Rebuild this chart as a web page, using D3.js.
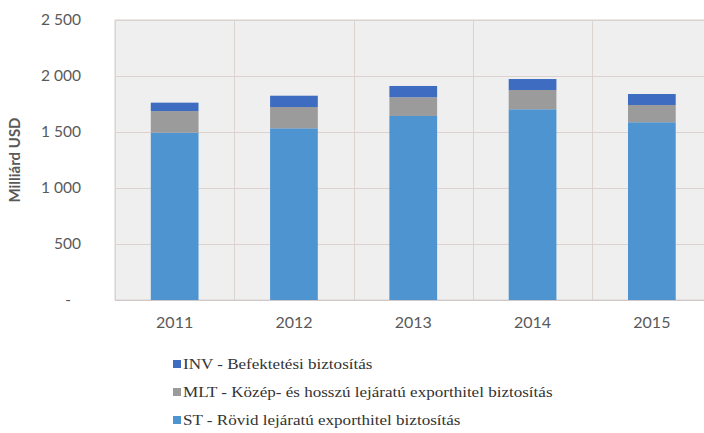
<!DOCTYPE html>
<html>
<head>
<meta charset="utf-8">
<script src="https://cdn.jsdelivr.net/npm/d3@7"></script>
<style>
  html, body { margin: 0; padding: 0; background: #ffffff; }
  svg { display: block; }
</style>
</head>
<body>
<svg id="chart" width="704" height="433"></svg>
<script>
// Years on the category axis
const years = ["2011", "2012", "2013", "2014", "2015"];

// Series values, billion USD
const stValues  = [1494, 1533, 1643, 1703, 1587]; // short-term
const mltValues = [193, 190, 167, 172, 154];      // medium / long-term
const invValues = [75, 101, 101, 98, 98];         // investment

// Value axis ticks
const yTicks = [0, 500, 1000, 1500, 2000, 2500];

const seriesNames = [
  "ST - Rövid lejáratú exporthitel biztosítás",
  "MLT - Közép- és hosszú lejáratú exporthitel biztosítás",
  "INV - Befektetési biztosítás"
];
const seriesKeys = ["st", "mlt", "inv"];
const colors = { st: "#4e94d1", mlt: "#9b9b9b", inv: "#3d6cc0" };

const table = years.map((y, i) => ({
  year: y, st: stValues[i], mlt: mltValues[i], inv: invValues[i]
}));

const svg = d3.select("#chart");
const plot = { left: 115, top: 20, right: 711.5, bottom: 300 };

const x = d3.scaleBand()
  .domain(years)
  .range([plot.left, plot.right])
  .paddingInner(0.6)
  .paddingOuter(0.3);

const y = d3.scaleLinear()
  .domain([0, 2500])
  .range([plot.bottom, plot.top]);

// plot area background
svg.append("rect")
  .attr("x", plot.left).attr("y", plot.top)
  .attr("width", plot.right - plot.left)
  .attr("height", plot.bottom - plot.top)
  .attr("fill", "#efefef")
  .attr("stroke", "#d6d0ce")
  .attr("stroke-width", 1);

// horizontal gridlines
svg.append("g")
  .selectAll("line")
  .data(yTicks)
  .join("line")
  .attr("x1", plot.left).attr("x2", plot.right)
  .attr("y1", d => Math.round(y(d)) + 0.5)
  .attr("y2", d => Math.round(y(d)) + 0.5)
  .attr("stroke", d => d === 0 ? "#cfc9c7" : "#dcd2cf")
  .attr("stroke-width", 1);

// vertical separators between categories
const step = x.step();
svg.append("g")
  .selectAll("line")
  .data(d3.range(years.length + 1))
  .join("line")
  .attr("x1", i => Math.round(plot.left + i * step) + 0.5)
  .attr("x2", i => Math.round(plot.left + i * step) + 0.5)
  .attr("y1", plot.top).attr("y2", plot.bottom)
  .attr("stroke", "#dcd2cf")
  .attr("stroke-width", 1);

// stacked bars
const stack = d3.stack().keys(seriesKeys)(table);
svg.append("g")
  .selectAll("g")
  .data(stack)
  .join("g")
  .attr("fill", s => colors[s.key])
  .selectAll("rect")
  .data(s => s)
  .join("rect")
  .attr("x", d => x(d.data.year))
  .attr("width", x.bandwidth())
  .attr("y", d => y(d[1]))
  .attr("height", d => y(d[0]) - y(d[1]));

// value axis labels
const fmt = v => v === 0 ? "-" : d3.format(",")(v).replace(/,/g, "\u00a0");
const yAxis = d3.axisLeft(y).tickValues(yTicks).tickFormat(fmt).tickSize(0).tickPadding(0);
const gy = svg.append("g")
  .attr("transform", `translate(81,0)`)
  .call(yAxis);
gy.select(".domain").remove();
gy.selectAll("text")
  .attr("fill", "#595959")
  .style("font-family", "Lato, 'Open Sans', sans-serif")
  .style("font-size", "15.5px")
  .attr("dx", d => d === 0 ? -10 : 0);

// category axis labels
const xAxis = d3.axisBottom(x).tickSize(0).tickPadding(0);
const gx = svg.append("g")
  .attr("transform", `translate(0,${plot.bottom + 17})`)
  .call(xAxis);
gx.select(".domain").remove();
gx.selectAll("text")
  .attr("fill", "#595959")
  .style("font-family", "Lato, 'Open Sans', sans-serif")
  .style("font-size", "16px");

// value axis title
svg.append("text")
  .attr("transform", `translate(20,${(plot.top + plot.bottom) / 2}) rotate(-90)`)
  .attr("text-anchor", "middle")
  .attr("fill", "#595959")
  .style("font-family", "Lato, 'Open Sans', sans-serif")
  .style("font-weight", "bold")
  .style("font-size", "15px")
  .text("Milliárd USD");

// legend, top entry is the top of the stack
const legendOrder = ["inv", "mlt", "st"];
const legend = svg.append("g");
const items = legend.selectAll("g")
  .data(legendOrder)
  .join("g")
  .attr("transform", (k, i) => `translate(173,${364 + i * 28})`);
items.append("rect")
  .attr("x", 0).attr("y", -4)
  .attr("width", 8).attr("height", 8)
  .attr("fill", k => colors[k]);
items.append("text")
  .attr("transform", "translate(10,0) scale(1.1,1)")
  .attr("dy", "0.35em")
  .attr("fill", "#333333")
  .style("font-family", "'Liberation Serif', 'Times New Roman', serif")
  .style("font-size", "15.5px")
  .text(k => seriesNames[seriesKeys.indexOf(k)]);
</script>
</body>
</html>
